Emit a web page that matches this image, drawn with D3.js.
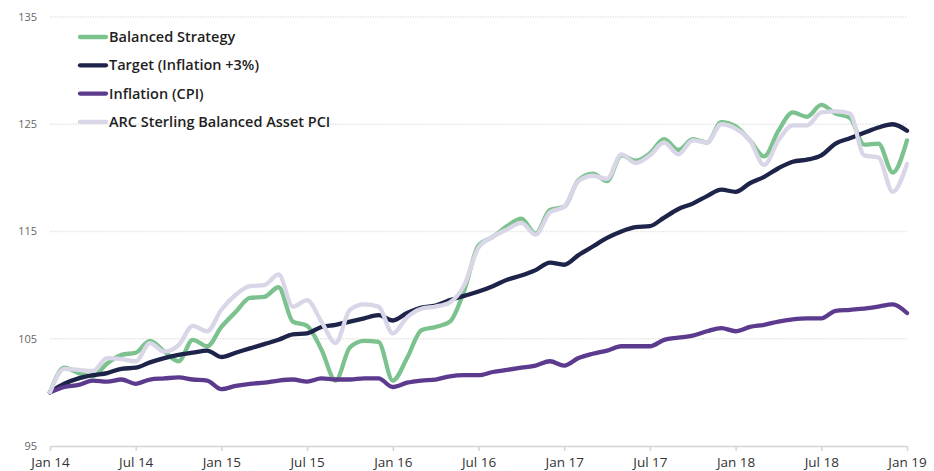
<!DOCTYPE html>
<html>
<head>
<meta charset="utf-8">
<script src="https://cdn.jsdelivr.net/npm/d3@7"></script>
<style>
  body { margin: 0; background: #fff; }
  text { font-family: "Open Sans", "Noto Sans", sans-serif; }
</style>
</head>
<body>
<svg id="chart"></svg>
<script>
// monthly index, Jan 14 = 0 ... Jan 19 = 60
const xTickMonths = [0, 6, 12, 18, 24, 30, 36, 42, 48, 54, 60];
const xTickLabels = ["Jan 14", "Jul 14", "Jan 15", "Jul 15", "Jan 16", "Jul 16",
                     "Jan 17", "Jul 17", "Jan 18", "Jul 18", "Jan 19"];
const yTicks = [95, 105, 115, 125, 135];

const seriesNames = ["Balanced Strategy", "Target (Inflation +3%)", "Inflation (CPI)", "ARC Sterling Balanced Asset PCI"];
const seriesColors = ["#7cc28f", "#1e2349", "#5c3a8e", "#d8d6e7"];

const balanced = [100, 102.3, 101.8, 101.5, 102.7, 103.5, 103.7, 104.8, 103.8, 102.9,
  104.9, 104.3, 106.1, 107.5, 108.8, 108.9, 109.8, 106.6, 106.2, 104.0,
  101.1, 104.2, 104.8, 104.7, 101.1, 103.2, 105.8, 106.1, 106.6, 109.5,
  113.7, 114.5, 115.5, 116.2, 114.8, 117.0, 117.3, 119.8, 120.4, 119.7,
  122.1, 121.6, 122.3, 123.6, 122.6, 123.6, 123.3, 125.2, 124.8, 123.5,
  122.0, 124.4, 126.1, 125.7, 126.8, 126.0, 125.6, 123.1, 123.2, 120.5, 123.5];

const target = [100, 100.8, 101.3, 101.6, 101.8, 102.2, 102.3, 102.8, 103.2, 103.5,
  103.7, 103.9, 103.3, 103.7, 104.1, 104.5, 104.9, 105.4, 105.5, 106.1,
  106.3, 106.6, 106.9, 107.2, 106.7, 107.4, 107.9, 108.1, 108.6, 109.0,
  109.4, 109.9, 110.5, 110.9, 111.4, 112.1, 111.9, 112.8, 113.6, 114.4,
  115.0, 115.4, 115.5, 116.3, 117.1, 117.6, 118.3, 118.9, 118.7, 119.5,
  120.1, 120.9, 121.5, 121.7, 122.1, 123.2, 123.7, 124.2, 124.7, 125.0, 124.4];

const inflation = [100, 100.5, 100.7, 101.1, 101.0, 101.2, 100.8, 101.2, 101.3, 101.4,
  101.2, 101.1, 100.3, 100.6, 100.8, 100.9, 101.1, 101.2, 101.0, 101.3,
  101.2, 101.2, 101.3, 101.3, 100.5, 100.9, 101.1, 101.2, 101.5, 101.6,
  101.6, 101.9, 102.1, 102.3, 102.5, 102.9, 102.5, 103.2, 103.6, 103.9,
  104.3, 104.3, 104.3, 104.9, 105.1, 105.3, 105.7, 106.0, 105.7, 106.1,
  106.3, 106.6, 106.8, 106.9, 106.9, 107.6, 107.7, 107.8, 108.0, 108.2, 107.4];

const arc = [100, 102.2, 102.1, 102.0, 103.2, 103.1, 102.9, 104.6, 103.8, 104.4,
  106.2, 105.7, 107.7, 109.1, 109.9, 110.0, 111.0, 108.0, 108.6, 106.6,
  104.6, 107.7, 108.2, 108.0, 105.5, 107.0, 107.8, 108.0, 108.4, 110.0,
  113.5, 114.5, 115.2, 115.8, 114.7, 116.8, 117.3, 119.7, 120.2, 119.9,
  122.2, 121.4, 122.1, 123.3, 122.2, 123.5, 123.3, 125.0, 124.6, 123.5,
  121.2, 123.5, 124.9, 124.9, 126.1, 126.2, 126.0, 122.1, 121.9, 118.7, 121.3];

const allSeries = [balanced, target, inflation, arc];

const width = 934;
const height = 471;
const marginTop = 17;
const marginRight = 27;
const marginBottom = 25;
const marginLeft = 50;

const svg = d3.select("#chart")
    .attr("width", width)
    .attr("height", height)
    .attr("viewBox", [0, 0, width, height]);

const x = d3.scaleLinear()
    .domain([0, 60])
    .range([marginLeft, width - marginRight]);

const y = d3.scaleLinear()
    .domain([95, 135])
    .range([height - marginBottom, marginTop]);

// grid lines (skip the bottom one, the axis draws it)
svg.append("g")
  .selectAll("line")
  .data(yTicks.filter(d => d > 95))
  .join("line")
    .attr("x1", marginLeft)
    .attr("x2", width - marginRight)
    .attr("y1", d => y(d))
    .attr("y2", d => y(d))
    .attr("stroke", "#e6e6e6")
    .attr("stroke-width", 1.5)
    .attr("stroke-dasharray", "1.5,1");

// y labels
svg.append("g")
  .selectAll("text")
  .data(yTicks)
  .join("text")
    .attr("x", 37)
    .attr("y", d => y(d))
    .attr("dy", "0.35em")
    .attr("text-anchor", "end")
    .attr("fill", "#666")
    .attr("font-size", 11)
    .text(d => d);

// x axis
const xAxis = d3.axisBottom(x)
    .tickValues(xTickMonths)
    .tickFormat((d, i) => xTickLabels[i])
    .tickSize(5)
    .tickSizeOuter(0)
    .tickPadding(6);

svg.append("g")
    .attr("transform", `translate(0,${height - marginBottom})`)
    .call(xAxis)
    .call(g => g.select(".domain").attr("stroke", "#d4d4d4").attr("stroke-width", 1.5))
    .call(g => g.selectAll(".tick line").attr("stroke", "#d4d4d4").attr("stroke-width", 1.5))
    .call(g => g.selectAll(".tick text")
        .attr("fill", "#333")
        .attr("font-size", 13.5)
        .style("font-family", "'Open Sans', sans-serif"));

// lines
const line = d3.line()
    .x((d, i) => x(i))
    .y(d => y(d))
    .curve(d3.curveMonotoneX);

svg.append("g")
  .selectAll("path")
  .data(allSeries)
  .join("path")
    .attr("d", d => line(d))
    .attr("fill", "none")
    .attr("stroke", (d, i) => seriesColors[i])
    .attr("stroke-width", 4.3)
    .attr("stroke-linejoin", "round")
    .attr("stroke-linecap", "round");

// legend
const legend = svg.append("g")
    .attr("transform", "translate(78,37)");

const legendItem = legend.selectAll("g")
  .data(seriesNames)
  .join("g")
    .attr("transform", (d, i) => `translate(0,${i * 28.3})`);

legendItem.append("line")
    .attr("x1", 2)
    .attr("x2", 28)
    .attr("stroke", (d, i) => seriesColors[i])
    .attr("stroke-width", 4.3)
    .attr("stroke-linecap", "round");

legendItem.append("text")
    .attr("x", 31)
    .attr("dy", "0.35em")
    .attr("fill", "#1f1f1f")
    .attr("font-size", 14.5)
    .attr("font-weight", 600)
    .text(d => d);
</script>
</body>
</html>
